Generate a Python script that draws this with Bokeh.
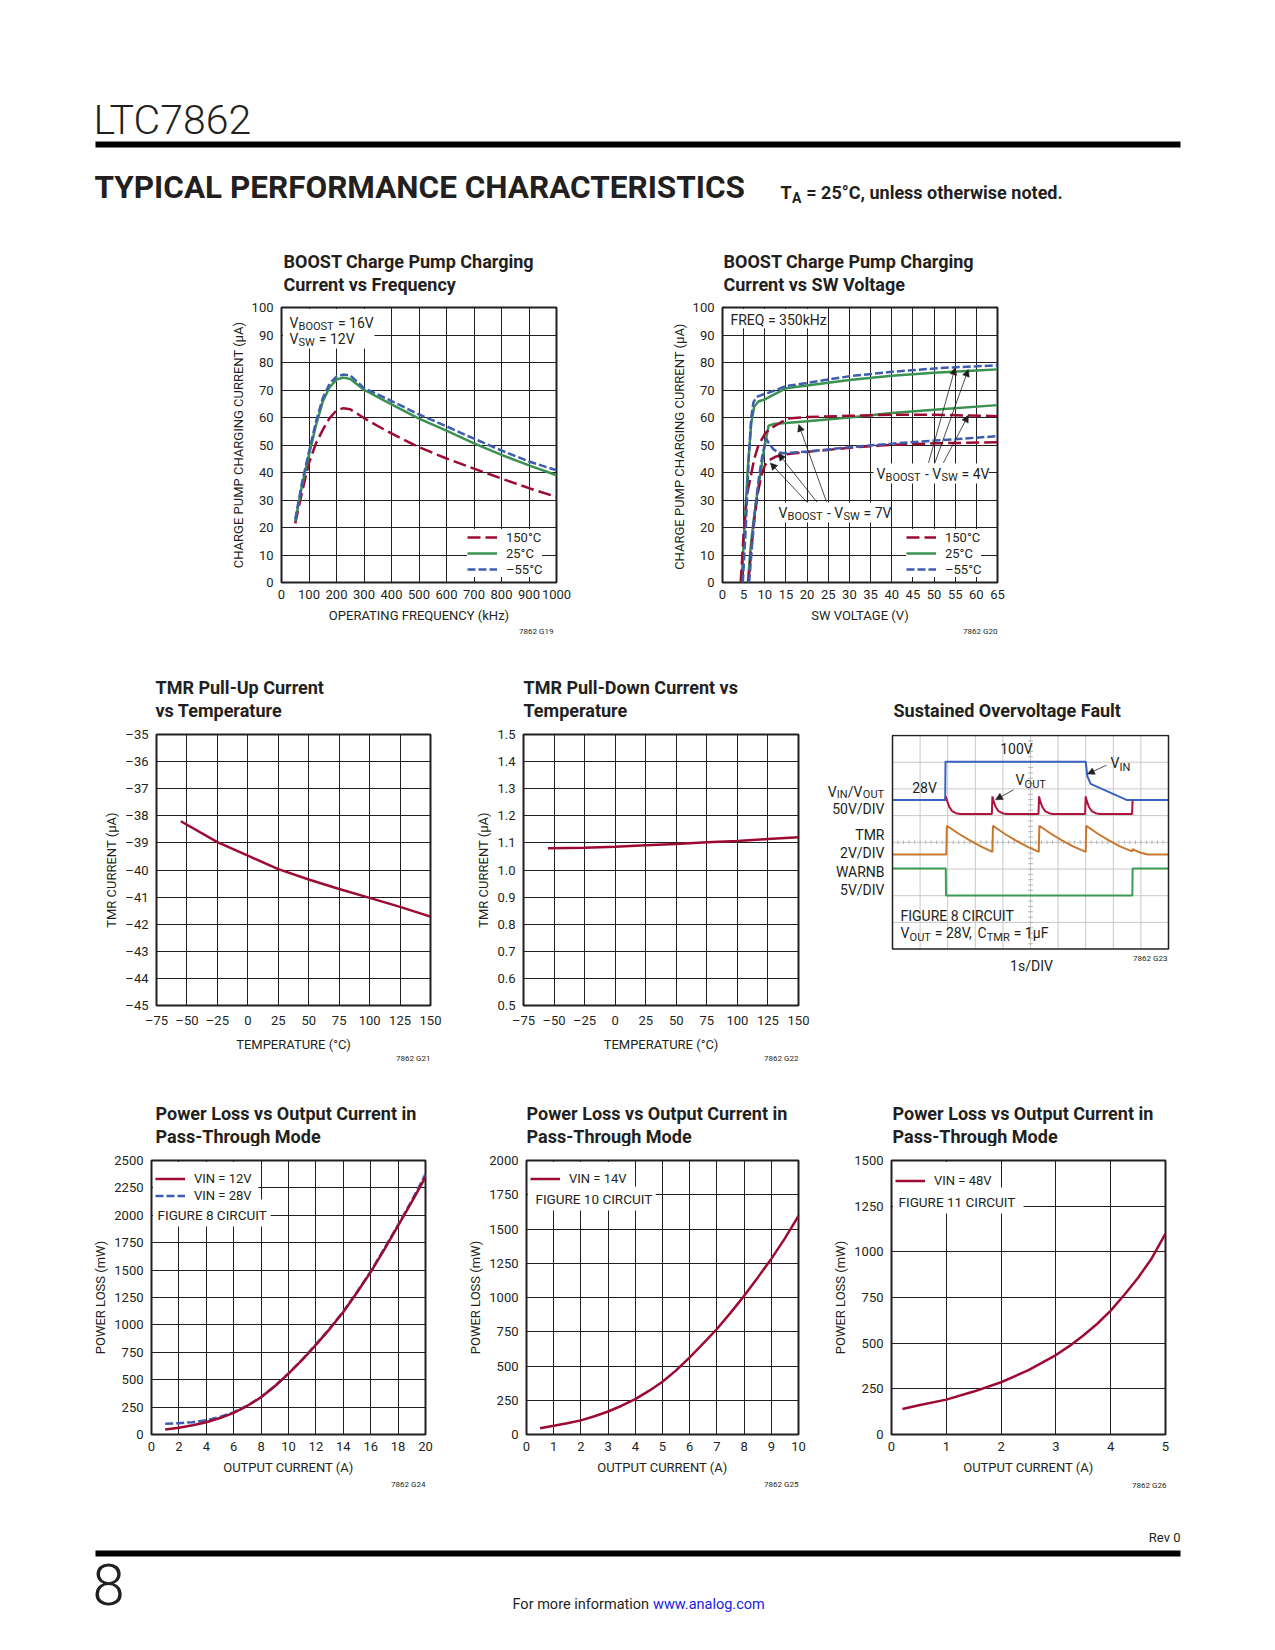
import numpy as np
from bokeh.plotting import figure
from bokeh.models import Range1d, FixedTicker, Label, Legend, LegendItem, Arrow, NormalHead
from bokeh.layouts import column, row
from bokeh.embed import file_html
from bokeh.resources import INLINE

FONT = "Roboto"
LIGHT = "Roboto Light, Roboto"
TXT = "#231F20"
RED = "#9D0B33"
GREEN = "#3B9150"
BLUE = "#3D5DAE"

# ---------------- data ----------------
# G19: charge pump current vs frequency
g19_freq = [50, 75, 100, 125, 150, 175, 200, 225, 250, 300, 350, 400, 500, 600, 700, 800, 900, 1000]
g19_150c = [21.5, 33.0, 43.5, 50.5, 55.5, 59.8, 62.6, 63.4, 63.0, 59.8, 56.9, 54.2, 49.2, 45.1, 41.4, 37.8, 34.3, 31.1]
g19_25c = [22.3, 35.5, 46.5, 57.0, 65.8, 71.0, 73.8, 74.5, 74.0, 70.1, 67.4, 64.8, 59.6, 55.2, 50.6, 46.4, 42.6, 39.0]
g19_m55c = [23.0, 36.5, 47.5, 58.3, 67.0, 72.3, 74.9, 75.6, 75.3, 70.7, 68.4, 66.0, 61.1, 56.8, 52.3, 48.0, 44.0, 40.8]
g19_xticks = [0, 100, 200, 300, 400, 500, 600, 700, 800, 900, 1000]
g19_xlabels = ["0", "100", "200", "300", "400", "500", "600", "700", "800", "900", "1000"]
g19_yticks = [0, 10, 20, 30, 40, 50, 60, 70, 80, 90, 100]
g19_ylabels = ["0", "10", "20", "30", "40", "50", "60", "70", "80", "90", "100"]
temp_names = ["150°C", "25°C", "–55°C"]

# G20: charge pump current vs SW voltage (VBOOST-VSW = 4V and 7V)
g20_4v_150c_x = [4.3, 5.0, 5.8, 6.6, 7.5, 8.5, 10.2, 12.0, 15.3, 20, 30, 40, 50, 65]
g20_4v_150c_y = [0, 18, 32, 38, 45, 50, 54.5, 56.6, 59.6, 60.2, 60.6, 61.0, 61.0, 60.5]
g20_4v_25c_x = [4.5, 5.2, 6.0, 6.8, 7.5, 8.5, 10, 12, 15, 20, 30, 40, 50, 60, 65]
g20_4v_25c_y = [0, 20, 42, 58, 64, 65.8, 66.6, 68.2, 70.6, 71.6, 73.6, 75.2, 76.3, 77.1, 77.5]
g20_4v_m55c_x = [4.8, 5.5, 6.2, 6.8, 7.3, 8.1, 10, 12, 15, 20, 25, 30, 40, 50, 55, 60, 65]
g20_4v_m55c_y = [0, 20, 45, 60, 65.5, 67.5, 68.6, 69.6, 71.4, 72.6, 73.8, 75.0, 76.6, 77.8, 78.3, 78.6, 79.0]
g20_7v_150c_x = [6.1, 6.8, 7.6, 8.4, 9.2, 10.0, 10.9, 12.5, 13.7, 15, 20, 30, 40, 50, 65]
g20_7v_150c_y = [0, 12, 24, 33, 39, 42.5, 44.4, 45.7, 46.2, 46.6, 47.5, 49.0, 50.1, 50.6, 51.0]
g20_7v_25c_x = [6.0, 6.6, 7.3, 8.0, 9.0, 10.0, 10.9, 12.0, 15, 20, 30, 40, 50, 65]
g20_7v_25c_y = [0, 12, 22, 30, 40, 50, 57.0, 57.6, 58.0, 58.6, 60.0, 61.6, 62.8, 64.5]
g20_7v_m55c_x = [6.3, 7.0, 7.8, 8.6, 9.4, 10.3, 11.0, 12.0, 13.0, 14.4, 20, 30, 40, 50, 65]
g20_7v_m55c_y = [0, 14, 28, 38, 46, 52.4, 50.5, 48.5, 47.4, 47.0, 47.6, 49.2, 50.5, 51.6, 53.2]
g20_xticks = [0, 5, 10, 15, 20, 25, 30, 35, 40, 45, 50, 55, 60, 65]
g20_xlabels = ["0", "5", "10", "15", "20", "25", "30", "35", "40", "45", "50", "55", "60", "65"]

# G21 / G22: TMR currents vs temperature
tmr_temp = [-55, -25, 0, 25, 50, 75, 100, 125, 150]
tmr_pullup = [-38.2, -38.97, -39.47, -39.97, -40.35, -40.7, -41.03, -41.36, -41.72]
tmr_pulldown = [1.080, 1.082, 1.086, 1.091, 1.096, 1.102, 1.107, 1.114, 1.121]
temp_ticks = [-75, -50, -25, 0, 25, 50, 75, 100, 125, 150]
temp_labels = ["–75", "–50", "–25", "0", "25", "50", "75", "100", "125", "150"]
g21_yticks = [-45, -44, -43, -42, -41, -40, -39, -38, -37, -36, -35]
g21_ylabels = ["–45", "–44", "–43", "–42", "–41", "–40", "–39", "–38", "–37", "–36", "–35"]
g22_yticks = [0.5, 0.6, 0.7, 0.8, 0.9, 1.0, 1.1, 1.2, 1.3, 1.4, 1.5]
g22_ylabels = ["0.5", "0.6", "0.7", "0.8", "0.9", "1.0", "1.1", "1.2", "1.3", "1.4", "1.5"]

# G23: scope traces, time and level in divisions
vin_t = [0, 1.91, 1.92, 7.00, 7.06, 7.18, 8.50, 10]
vin_v = [5.58, 5.58, 7.02, 7.02, 6.47, 6.19, 5.58, 5.58]
vout_t = [0, 1.91, 1.93, 1.98, 2.06, 2.16, 2.30, 2.45, 3.60, 3.62, 3.66, 3.74, 3.84, 3.98, 4.12,
          5.29, 5.31, 5.35, 5.43, 5.53, 5.67, 5.81, 6.98, 7.00, 7.04, 7.12, 7.22, 7.36, 7.50, 8.68, 8.70, 10]
vout_v = [5.58, 5.58, 5.72, 5.55, 5.32, 5.17, 5.09, 5.06, 5.06, 5.72, 5.55, 5.32, 5.17, 5.09, 5.06,
          5.06, 5.72, 5.55, 5.32, 5.17, 5.09, 5.06, 5.06, 5.72, 5.55, 5.32, 5.17, 5.09, 5.06, 5.06, 5.58, 5.58]
tmr_t = [0, 1.95, 1.97, 2.40, 2.80, 3.20, 3.62, 3.64, 4.06, 4.46, 4.86, 5.30, 5.32, 5.74, 6.14, 6.54,
         7.00, 7.02, 7.44, 7.84, 8.24, 8.68, 8.71, 8.78, 9.00, 9.25, 10]
tmr_v = [3.545, 3.545, 4.62, 4.32, 4.07, 3.85, 3.64, 4.62, 4.32, 4.07, 3.85, 3.64, 4.62, 4.32, 4.07, 3.85,
         3.64, 4.62, 4.32, 4.07, 3.85, 3.66, 3.75, 3.70, 3.61, 3.545, 3.545]
warnb_t = [0, 1.93, 1.94, 8.69, 8.70, 10]
warnb_v = [3.015, 3.015, 2.006, 2.006, 3.015, 3.015]

# G24 / G25 / G26: power loss vs output current
g24_i = [1, 2, 3, 4, 5, 6, 7, 8, 9, 10, 11, 12, 13, 14, 15, 16, 17, 18, 19, 20]
g24_p12 = [45, 62, 85, 112, 150, 198, 262, 340, 440, 555, 680, 818, 962, 1118, 1295, 1482, 1690, 1905, 2122, 2350]
g24_p28 = [98, 103, 112, 130, 160, 202, 265, 342, 442, 557, 683, 822, 966, 1122, 1300, 1488, 1698, 1912, 2135, 2375]
g24_xticks = [0, 2, 4, 6, 8, 10, 12, 14, 16, 18, 20]
g24_yticks = [0, 250, 500, 750, 1000, 1250, 1500, 1750, 2000, 2250, 2500]
g25_i = [0.5, 1, 1.5, 2, 2.5, 3, 3.5, 4, 4.5, 5, 5.5, 6, 6.5, 7, 7.5, 8, 8.5, 9, 9.5, 10]
g25_p14 = [45, 64, 82, 103, 133, 168, 210, 258, 318, 385, 468, 563, 665, 770, 888, 1012, 1145, 1282, 1432, 1595]
g25_xticks = [0, 1, 2, 3, 4, 5, 6, 7, 8, 9, 10]
g25_yticks = [0, 250, 500, 750, 1000, 1250, 1500, 1750, 2000]
g26_i = [0.2, 0.5, 1, 1.5, 2, 2.5, 3, 3.25, 3.5, 3.75, 4, 4.25, 4.5, 4.75, 5]
g26_p48 = [140, 160, 191, 235, 286, 352, 435, 485, 542, 605, 678, 765, 858, 965, 1100]
g26_xticks = [0, 1, 2, 3, 4, 5]
g26_yticks = [0, 250, 500, 750, 1000, 1250, 1500]

# ---------------- helpers ----------------
RW = {' ': 248, '(': 334, ')': 340, ',': 196, '-': 270, '.': 257, '/': 412, ':': 242,
      '=': 537, '°': 376, 'µ': 560, '–': 560,
      'A': 652, 'B': 623, 'C': 651, 'D': 656, 'E': 568, 'F': 553, 'G': 681, 'H': 713, 'I': 272, 'J': 552,
      'K': 627, 'L': 538, 'M': 873, 'N': 713, 'O': 688, 'P': 631, 'Q': 688, 'R': 616, 'S': 594, 'T': 597,
      'U': 648, 'V': 636, 'W': 887, 'X': 627, 'Y': 600, 'Z': 599,
      'a': 543, 'b': 548, 'c': 511, 'd': 551, 'e': 518, 'f': 340, 'g': 548, 'h': 538, 'i': 237, 'j': 239,
      'k': 495, 'l': 237, 'm': 855, 'n': 539, 'o': 557, 'p': 548, 'q': 551, 'r': 331, 's': 503, 't': 319,
      'u': 538, 'v': 473, 'w': 733, 'x': 484, 'y': 462, 'z': 484}


def tw(s, size, bold=False):
    w = sum(RW.get(c, 561) for c in s)
    return w * size / 1000.0 * 1.02 * (1.04 if bold else 1.0)


class Chart:
    def __init__(self, fig_box, frame_box, xr, yr, axes=True):
        fx0, fy0, fx1, fy1 = fig_box
        L, T, R, B = frame_box
        self.L, self.T, self.R, self.B = L, T, R, B
        self.xr, self.yr = xr, yr
        kw = {}
        if not axes:
            kw = dict(x_axis_location=None, y_axis_location=None)
        self.p = figure(width=fx1 - fx0, height=fy1 - fy0, x_range=Range1d(*xr), y_range=Range1d(*yr),
                        min_border_left=L - fx0, min_border_right=fx1 - R,
                        min_border_top=T - fy0, min_border_bottom=fy1 - B,
                        toolbar_location=None, tools="", output_backend="svg", **kw)
        p = self.p
        p.background_fill_color = "white"
        p.border_fill_color = "white"
        p.outline_line_color = TXT
        p.outline_line_width = 2

    def x(self, px):
        return self.xr[0] + (px - self.L) / (self.R - self.L) * (self.xr[1] - self.xr[0])

    def y(self, py):
        return self.yr[0] + (self.B - py) / (self.B - self.T) * (self.yr[1] - self.yr[0])

    def text(self, px, py, s, size=14, bold=False, align="left", color=TXT, baseline="middle", xoff=0, yoff=0,
             font=FONT):
        self.p.add_layout(Label(x=self.x(px), y=self.y(py), x_offset=xoff, y_offset=yoff, text=s,
                                text_font=font, text_font_size=f"{size}px",
                                text_font_style="bold" if bold else "normal",
                                text_align=align, text_baseline=baseline, text_color=color))

    def rich(self, px, py, segs, size=14, align="left", color=TXT, bold=False, drop=0.3):
        # text with subscripts: pieces placed side by side (SVG drops edge spaces, so they become offsets)
        sub = round(size * 0.8)
        sizes = [sub if s else size for t, s in segs]
        widths = [tw(t, z, bold) for (t, s), z in zip(segs, sizes)]
        total = sum(widths)
        off = -total if align == "right" else (-total / 2 if align == "center" else 0)
        for (t, s), z, w in zip(segs, sizes, widths):
            lead = len(t) - len(t.lstrip(" "))
            body = t.strip(" ")
            if body:
                self.text(px, py, body, size=z, bold=bold, align="left", color=color,
                          xoff=off + tw(" " * lead, z, bold), yoff=(-drop * size if s else 0))
            off += w

    def mask(self, x0, x1, y0, y1):
        # white box hiding the grid behind in-plot notes; kept 1.5px inside the frame
        x0 = max(x0, self.x(self.L + 1.5))
        x1 = min(x1, self.x(self.R - 1.5))
        y1 = min(y1, self.y(self.T + 1.5))
        y0 = max(y0, self.y(self.B - 1.5))
        self.p.quad(left=[x0], right=[x1], bottom=[y0], top=[y1], fill_color="white", line_color=None)

    def axes(self, xticks, xlabels, yticks, ylabels, xtitle, ytitle):
        p = self.p
        p.xaxis.ticker = FixedTicker(ticks=xticks)
        p.yaxis.ticker = FixedTicker(ticks=yticks)
        p.xgrid.ticker = FixedTicker(ticks=xticks)
        p.ygrid.ticker = FixedTicker(ticks=yticks)
        p.xaxis.major_label_overrides = {t: l for t, l in zip(xticks, xlabels)}
        p.yaxis.major_label_overrides = {t: l for t, l in zip(yticks, ylabels)}
        p.xaxis.axis_label = xtitle
        p.yaxis.axis_label = ytitle
        for ax in p.axis:
            ax.major_tick_in = 0
            ax.major_tick_out = 0
            ax.minor_tick_line_color = None
            ax.axis_line_color = None
            ax.major_label_text_font = FONT
            ax.major_label_text_font_size = "13px"
            ax.major_label_text_color = TXT
            ax.major_label_standoff = 8
            ax.axis_label_text_font = FONT
            ax.axis_label_text_font_size = "13px"
            ax.axis_label_text_font_style = "normal"
            ax.axis_label_text_color = TXT
            ax.axis_label_standoff = 3
        p.xaxis.major_label_standoff = 7
        p.xaxis.axis_label_standoff = 6
        p.grid.grid_line_color = TXT
        p.grid.grid_line_width = 1
        p.grid.grid_line_alpha = 1


def strip(y0, y1):
    # full-width page band for titles, figure tags, header and footer (page pixel coordinates)
    s = Chart((0, y0, 1270, y1), (0, y0, 1270, y1), (0, 1270), (y1, y0), axes=False)
    s.p.outline_line_color = None
    s.p.grid.visible = False
    return s


def titles(s, px, py, lines):
    for i, t in enumerate(lines):
        s.text(px, py + 23 * i, t, size=18, bold=True)


def legend(c, items, loc, size=13, gh=16, bg=True):
    lg = Legend(items=[LegendItem(label=n, renderers=[r]) for n, r in items], location=loc,
                glyph_width=30, glyph_height=gh, label_height=gh, label_standoff=9, spacing=0,
                padding=5, margin=0, border_line_color=None,
                background_fill_color="white", background_fill_alpha=1.0 if bg else 0.0,
                label_text_font=FONT, label_text_font_size=f"{size}px", label_text_color=TXT)
    c.p.add_layout(lg)


def arrow(c, x0, y0, x1, y1):
    c.p.add_layout(Arrow(end=NormalHead(size=7, fill_color=TXT, line_color=TXT, line_width=0.5),
                         x_start=x0, y_start=y0, x_end=x1, y_end=y1, line_color=TXT, line_width=0.8))


# ---------------- page bands ----------------
s0 = strip(0, 296)
s1 = strip(628, 722)
s2 = strip(1054, 1146)
s3 = strip(1480, 1645)

s0.text(93, 119, "LTC7862", size=41, font=LIGHT)
s0.p.quad(left=[95], right=[1180], top=[141], bottom=[147], fill_color="black", line_color=None)
s0.text(94, 187, "TYPICAL PERFORMANCE CHARACTERISTICS", size=31.5, bold=True)
s0.rich(780, 192, [("T", 0), ("A", 1), (" = 25°C, unless otherwise noted.", 0)], size=18, bold=True)
titles(s0, 283, 261, ["BOOST Charge Pump Charging", "Current vs Frequency"])
titles(s0, 723, 261, ["BOOST Charge Pump Charging", "Current vs SW Voltage"])

s1.text(553, 631, "7862 G19", size=8, align="right")
s1.text(997, 631, "7862 G20", size=8, align="right")
titles(s1, 155, 687, ["TMR Pull-Up Current", "vs Temperature"])
titles(s1, 523, 687, ["TMR Pull-Down Current vs", "Temperature"])
titles(s1, 893, 710, ["Sustained Overvoltage Fault"])

s2.text(430, 1058, "7862 G21", size=8, align="right")
s2.text(798, 1058, "7862 G22", size=8, align="right")
for tx in (155, 526, 892):
    titles(s2, tx, 1113, ["Power Loss vs Output Current in", "Pass-Through Mode"])

s3.text(425, 1484, "7862 G24", size=8, align="right")
s3.text(798, 1484, "7862 G25", size=8, align="right")
s3.text(1166, 1485, "7862 G26", size=8, align="right")
s3.text(1180, 1537, "Rev 0", size=13, align="right")
s3.p.quad(left=[95], right=[1180], top=[1550], bottom=[1556], fill_color="black", line_color=None)
s3.text(92, 1584, "8", size=58, font=LIGHT)
w1 = tw("For more information ", 14.5)
s3.text(512, 1604, "For more information", size=14.5)
s3.text(512, 1604, "www.analog.com", size=14.5, color="#1A1AE6", xoff=w1)

# ---------------- G19 ----------------
c1 = Chart((0, 296, 640, 628), (281, 307, 556, 582), (0, 1000), (0, 100))
c1.axes(g19_xticks, g19_xlabels, g19_yticks, g19_ylabels, "OPERATING FREQUENCY (kHz)",
        "CHARGE PUMP CHARGING CURRENT (µA)")
c1.mask(0, c1.x(374), c1.y(348), 100)
r1a = c1.p.line(g19_freq, g19_150c, line_color=RED, line_width=2.5, line_dash="13 5")
r1b = c1.p.line(g19_freq, g19_25c, line_color=GREEN, line_width=2.5)
r1c = c1.p.line(g19_freq, g19_m55c, line_color=BLUE, line_width=2.5, line_dash="8 3")
legend(c1, list(zip(temp_names, [r1a, r1b, r1c])), (186, 5))
c1.rich(289, 322, [("V", 0), ("BOOST", 1), (" = 16V", 0)])
c1.rich(289, 338, [("V", 0), ("SW", 1), (" = 12V", 0)])

# ---------------- G20 ----------------
c2 = Chart((640, 296, 1270, 628), (722, 307, 997, 582), (0, 65), (0, 100))
c2.axes(g20_xticks, g20_xlabels, g19_yticks, g19_ylabels, "SW VOLTAGE (V)",
        "CHARGE PUMP CHARGING CURRENT  (µA)")
c2.mask(0, 23.5, 92.5, 100)
c2.mask(35.7, 62.9, 36.0, 43.3)
c2.mask(12.5, 39.7, 21.8, 29.1)
c2.p.line(g20_7v_25c_x, g20_7v_25c_y, line_color=GREEN, line_width=2.5)
r2b = c2.p.line(g20_4v_25c_x, g20_4v_25c_y, line_color=GREEN, line_width=2.5)
c2.p.line(g20_7v_150c_x, g20_7v_150c_y, line_color=RED, line_width=2.5, line_dash="13 5")
r2a = c2.p.line(g20_4v_150c_x, g20_4v_150c_y, line_color=RED, line_width=2.5, line_dash="13 5")
c2.p.line(g20_7v_m55c_x, g20_7v_m55c_y, line_color=BLUE, line_width=2.5, line_dash="8 3")
r2c = c2.p.line(g20_4v_m55c_x, g20_4v_m55c_y, line_color=BLUE, line_width=2.5, line_dash="8 3")
legend(c2, list(zip(temp_names, [r2a, r2b, r2c])), (184, 5))
c2.text(730, 319, "FREQ = 350kHz", size=14)
c2.rich(876, 473, [("V", 0), ("BOOST", 1), (" - ", 0), ("V", 0), ("SW", 1), (" = 4V", 0)])
c2.rich(778, 512, [("V", 0), ("BOOST", 1), (" - ", 0), ("V", 0), ("SW", 1), (" = 7V", 0)])
for (x0, y0, x1, y1) in [(19.9, 29.3, 11.3, 43.5), (22.3, 29.3, 13.2, 46.9), (24.6, 29.3, 18.0, 57.5),
                         (48.7, 43.5, 55.0, 78.1), (50.2, 43.5, 58.1, 77.5), (52.2, 43.5, 58.1, 60.8)]:
    arrow(c2, x0, y0, x1, y1)

# ---------------- G21 ----------------
c3 = Chart((0, 722, 465, 1054), (156, 734, 430, 1008), (-75, 150), (-45, -35))
c3.axes(temp_ticks, temp_labels, g21_yticks, g21_ylabels, "TEMPERATURE (°C)", "TMR CURRENT (µA)")
c3.p.line(tmr_temp, tmr_pullup, line_color=RED, line_width=2.5)

# ---------------- G22 ----------------
c4 = Chart((465, 722, 820, 1054), (523, 734, 798, 1008), (-75, 150), (0.5, 1.5))
c4.axes(temp_ticks, temp_labels, g22_yticks, g22_ylabels, "TEMPERATURE (°C)", "TMR CURRENT (µA)")
c4.p.line(tmr_temp, tmr_pulldown, line_color=RED, line_width=2.5)

# ---------------- G23 (scope, drawn in division units) ----------------
SX0, ST, SX1, SB = 892, 735, 1168, 951          # scope screen box on the page
FR5 = (820, 734, 1270, 1008)
xr5 = ((FR5[0] - SX0) / (SX1 - SX0) * 10, (FR5[2] - SX0) / (SX1 - SX0) * 10)
yr5 = ((SB - FR5[3]) / (SB - ST) * 8, (SB - FR5[1]) / (SB - ST) * 8)
c5 = Chart((820, 722, 1270, 1054), FR5, xr5, yr5, axes=False)
c5.p.outline_line_color = None
c5.p.grid.visible = False
c5.p.segment(x0=list(range(1, 10)), y0=0, x1=list(range(1, 10)), y1=8, line_color="#C9C9C9", line_width=1)
c5.p.segment(x0=0, y0=list(range(1, 8)), x1=10, y1=list(range(1, 8)), line_color="#C9C9C9", line_width=1)
gx = np.arange(0.2, 10, 0.2)
gy = np.arange(0.2, 8, 0.2)
c5.p.segment(x0=gx, y0=4 - 0.07, x1=gx, y1=4 + 0.07, line_color="#B5B5B5", line_width=1)
c5.p.segment(x0=5 - 0.09, y0=gy, x1=5 + 0.09, y1=gy, line_color="#B5B5B5", line_width=1)
c5.p.line(warnb_t, warnb_v, line_color="#3D9B58", line_width=2)
c5.p.line(tmr_t, tmr_v, line_color="#C8782C", line_width=2)
c5.p.line(vout_t, vout_v, line_color="#B0123C", line_width=2)
c5.p.line(vin_t, vin_v, line_color="#3A62C0", line_width=2)
c5.p.quad(left=[0], right=[10], bottom=[0], top=[8], fill_color=None, line_color=TXT, line_width=1.5)
c5.text(1016, 749, "100V", size=14, align="center")
c5.text(924, 788, "28V", size=14, align="center")
c5.rich(1110, 763, [("V", 0), ("IN", 1)])
c5.rich(1015, 780, [("V", 0), ("OUT", 1)])
arrow(c5, c5.x(1106), c5.y(765), c5.x(1087), c5.y(774))
arrow(c5, c5.x(1013), c5.y(790), c5.x(995), c5.y(800))
c5.text(900, 918, "FIGURE 8 CIRCUIT", size=14)
c5.rich(900, 935, [("V", 0), ("OUT", 1), (" = 28V,", 0), (" C", 0), ("TMR", 1), (" = 1µF", 0)])
c5.rich(884, 792, [("V", 0), ("IN", 1), ("/V", 0), ("OUT", 1)], align="right", drop=0.22)
c5.text(884, 809, "50V/DIV", size=14, align="right")
c5.text(884, 836, "TMR", size=14, align="right")
c5.text(884, 854, "2V/DIV", size=14, align="right")
c5.text(884, 873, "WARNB", size=14, align="right")
c5.text(884, 891, "5V/DIV", size=14, align="right")
c5.text(1031, 968, "1s/DIV", size=14, align="center")
c5.text(1167, 960, "7862 G23", size=8, align="right")

# ---------------- G24 ----------------
c6 = Chart((0, 1146, 465, 1480), (151, 1160, 425, 1434), (0, 20), (0, 2500))
c6.axes(g24_xticks, [str(v) for v in g24_xticks], g24_yticks, [str(v) for v in g24_yticks],
        "OUTPUT CURRENT (A)", "POWER LOSS (mW)")
c6.mask(0, 7.8, c6.y(1200), 2500)
c6.mask(0, 8.7, c6.y(1226), c6.y(1199))
r6b = c6.p.line(g24_i, g24_p28, line_color=BLUE, line_width=2.5, line_dash="8 3")
r6a = c6.p.line(g24_i, g24_p12, line_color=RED, line_width=2.5)
legend(c6, [("VIN = 12V", r6a), ("VIN = 28V", r6b)], (4, 1434 - 1204), gh=17, bg=False)
c6.text(157, 1214, "FIGURE 8 CIRCUIT", size=13.5)

# ---------------- G25 ----------------
c7 = Chart((465, 1146, 820, 1480), (524, 1160, 798, 1434), (0, 10), (0, 2000))
c7.axes(g25_xticks, [str(v) for v in g25_xticks], g25_yticks, [str(v) for v in g25_yticks],
        "OUTPUT CURRENT (A)", "POWER LOSS (mW)")
c7.mask(0, 3.9, c7.y(1187), 2000)
c7.mask(0, 4.75, c7.y(1210), c7.y(1186))
r7 = c7.p.line(g25_i, g25_p14, line_color=RED, line_width=2.5)
legend(c7, [("VIN = 14V", r7)], (4, 1434 - 1187), gh=17, bg=False)
c7.text(533, 1198, "FIGURE 10 CIRCUIT", size=13.5)

# ---------------- G26 ----------------
c8 = Chart((820, 1146, 1270, 1480), (891, 1160, 1165, 1434), (0, 5), (0, 1500))
c8.axes(g26_xticks, [str(v) for v in g26_xticks], g26_yticks, [str(v) for v in g26_yticks],
        "OUTPUT CURRENT (A)", "POWER LOSS (mW)")
c8.mask(0, 1.95, c8.y(1188), 1500)
c8.mask(0, 2.41, c8.y(1213), c8.y(1187))
r8 = c8.p.line(g26_i, g26_p48, line_color=RED, line_width=2.5)
legend(c8, [("VIN = 48V", r8)], (4, 1434 - 1189), gh=17, bg=False)
c8.text(898, 1201, "FIGURE 11 CIRCUIT", size=13.5)

layout = column(s0.p, row(c1.p, c2.p), s1.p, row(c3.p, c4.p, c5.p), s2.p, row(c6.p, c7.p, c8.p), s3.p)
open("out.html", "w").write(file_html(layout, INLINE))
